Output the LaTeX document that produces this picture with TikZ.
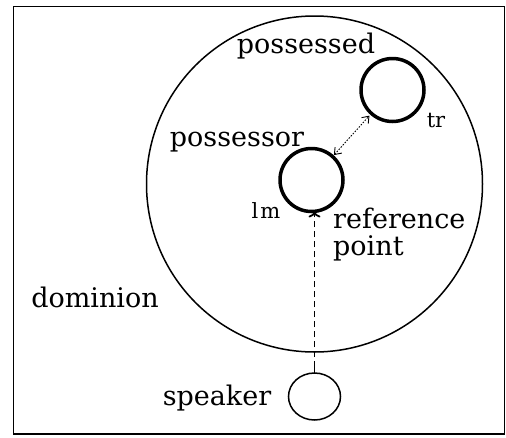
\documentclass[tikz,border=0pt]{standalone}
\usepackage{fontspec}
\newfontfamily\labfont{DejaVu Serif}
\usetikzlibrary{arrows.meta,shapes.geometric}
\begin{document}
\begin{tikzpicture}[x=1pt,y=-1pt,
  lab/.style={font=\labfont\fontsize{27}{27}\selectfont, inner sep=0pt, anchor=base},
  small/.style={font=\labfont\fontsize{21}{21}\selectfont, inner sep=0pt, anchor=base},
  thickcirc/.style={circle, draw, line width=3.5pt, minimum size=63pt, inner sep=0pt, outer sep=0pt},
  dashline/.style={line width=1.8pt, dash pattern=on 6pt off 4pt},
  dotline/.style={line width=0.9pt, dash pattern=on 1.5pt off 1.5pt}]
\useasboundingbox (0,0) rectangle (506,437);
\draw[line width=1.6pt] (13.5,6.5) rectangle (504.5,434);
% circles
\node[circle, draw, line width=1.5pt, minimum size=336pt, inner sep=0pt, outer sep=0pt] (dom) at (314.5,184) {};
\node[thickcirc] (tr) at (392.5,90) {};
\node[thickcirc] (lm) at (311.5,180) {};
\node[ellipse, draw, line width=1.5pt, minimum width=52pt, minimum height=47pt, inner sep=0pt, outer sep=0pt] (spk) at (314.5,396.5) {};
% labels
\node[lab] (possessed) at (306,53) {possessed};
\node[lab] (possessor) at (237,146) {possessor};
\node[lab] (dominion) at (95,307) {dominion};
\node[lab] (speaker) at (217,405) {speaker};
\node[lab, anchor=base west, align=left] (ref) at (333,255) {reference\\point};
\node[small] (trl) at (436,127) {tr};
\node[small] (lml) at (266,218) {l\hspace{2pt}m};
% connectors
\draw[line width=1.5pt] (spk.north) -- ++(0,-6) coordinate (spktop);
\draw[dashline, -{To[length=6pt,width=12pt]}] (spktop) -- (spktop |- lm.south);
\draw[dotline, {Straight Barb[length=6pt,width=9pt]}-{Straight Barb[length=6pt,width=9pt]}, shorten <=2pt, shorten >=3pt] (lm) -- (tr);
\end{tikzpicture}
\end{document}
